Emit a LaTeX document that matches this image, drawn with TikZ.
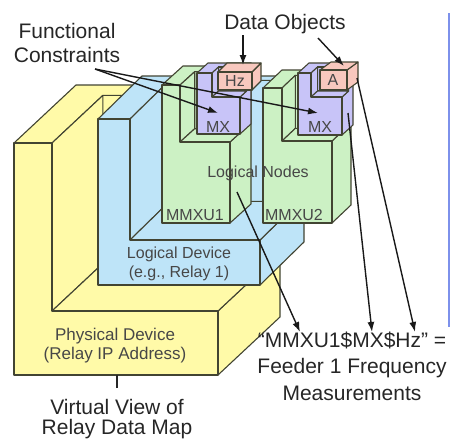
\documentclass[tikz,border=0pt]{standalone}
\usepackage{fontspec}
\setmainfont{Liberation Sans}
\usepackage{tikz}
\usetikzlibrary{calc, arrows.meta}

\definecolor{pdyellow}{RGB}{255,250,168}
\definecolor{ldblue}{RGB}{190,228,248}
\definecolor{lngreen}{RGB}{204,241,196}
\definecolor{fcpurple}{RGB}{200,196,248}
\definecolor{dopink}{RGB}{248,200,190}
\definecolor{edge}{RGB}{66,68,50}
\definecolor{rimblue}{RGB}{125,145,235}

% L-shaped block: fill, x0, xc, x1, y0, ys, yb, depth, wall fraction
\newcommand{\trayshape}[9]{%
    \coordinate (fa) at (#2,#5);
    \coordinate (fb) at (#3,#5);
    \coordinate (fc) at (#3,#6);
    \coordinate (fd) at (#4,#6);
    \coordinate (fe) at (#4,#7);
    \coordinate (ff) at (#2,#7);
    \coordinate (wb) at ($(fb)+#9*(#8)$);
    \coordinate (wc) at ($(fc)+#9*(#8)$);
    \coordinate (wd) at ($(fd)+#9*(#8)$);
    \coordinate (we) at ($(#4,#5)+#9*(#8)$);
    \coordinate (ba) at ($(fa)+(#8)$);
    \coordinate (bt) at ($(#4,#5)+(#8)$);
    \coordinate (be) at ($(fe)+(#8)$);
    \filldraw[boxline, fill=#1] (fd) -- (fe) -- (be) -- (bt) -- (we) -- (wd) -- cycle;
    \filldraw[boxline, fill=#1] (fa) -- (fb) -- (wb) -- (we) -- (bt) -- (ba) -- cycle;
    \filldraw[boxline, fill=#1] (wb) -- (we) -- (wd) -- (wc) -- cycle;
    \filldraw[boxline, fill=#1] (fb) -- (wb) -- (wc) -- (fc) -- cycle;
    \filldraw[boxline, fill=#1] (fc) -- (fd) -- (wd) -- (wc) -- cycle;
    \filldraw[boxline, fill=#1] (fa) -- (fb) -- (fc) -- (fd) -- (fe) -- (ff) -- cycle;
}

% plain box: fill, x0, y0, x1, y1, depth
\newcommand{\cubeshape}[6]{%
    \coordinate (ca) at (#2,#3);
    \coordinate (cb) at (#4,#3);
    \coordinate (cc) at (#4,#5);
    \filldraw[boxline, fill=#1] (cb) -- (cc) -- ($(cc)+(#6)$) -- ($(cb)+(#6)$) -- cycle;
    \filldraw[boxline, fill=#1] (ca) -- (cb) -- ($(cb)+(#6)$) -- ($(ca)+(#6)$) -- cycle;
    \filldraw[boxline, fill=#1] (ca) rectangle (cc);
}

\begin{document}
\begin{tikzpicture}[x=1pt, y=-1pt,
    boxline/.style={draw=edge, line width=1.1pt, line join=round},
    arr/.style={-{Latex[length=10pt, width=7pt]}, line width=1.4pt, black!90},
    biglabel/.style={text=black!85, align=center, inner sep=2pt},
    boxlabel/.style={text=black!72, align=center, inner sep=1pt, font=\fontsize{16}{19}\selectfont}]
    \useasboundingbox (0,0) rectangle (453,439);

    % Blocks
    \trayshape{pdyellow}{14}{52}{218}{143}{311}{375}{62,-58}{0.82}
    \trayshape{ldblue}{98}{130}{260}{119}{240}{285}{44,-43}{0.9}
    \trayshape{lngreen}{162}{180}{230}{85}{142}{223}{21,-19}{0.7}
    \trayshape{lngreen}{263}{282}{332}{88}{141}{223}{19,-18}{0.7}
    \trayshape{fcpurple}{197}{212}{240}{73}{97}{134}{11,-10}{0.6}
    \cubeshape{dopink}{218}{72}{252}{90}{9,-9}
    \trayshape{fcpurple}{298}{311}{342}{73}{97}{135}{11,-10}{0.6}
    \cubeshape{dopink}{320}{70}{347}{90}{11,-8}

    % Nodes
    \node[boxlabel] (hz) at (235,81) {Hz};
    \node[boxlabel] (a) at (333,80) {A};
    \node[boxlabel] (mx1) at (218,127) {MX};
    \node[boxlabel] (mx2) at (320,127) {MX};
    \node[boxlabel] (ln) at (258,173) {Logical Nodes};
    \node[boxlabel] (mmxu1) at (195,215) {MMXU1};
    \node[boxlabel] (mmxu2) at (294,215) {MMXU2};
    \node[boxlabel] (ld) at (179,264) {Logical Device\\(e.g., Relay 1)};
    \node[boxlabel, font=\fontsize{17}{19}\selectfont] (pd) at (115,346) {Physical Device\\(Relay IP Address)};

    \node[biglabel, font=\fontsize{21}{23.3}\selectfont] (fcl) at (67,43) {Functional\\Constraints};
    \node[biglabel, font=\fontsize{21}{24}\selectfont] (dol) at (285,24) {Data Objects};
    \node[biglabel, font=\fontsize{21}{26.5}\selectfont] (meas) at (352,366) {“MMXU1\$MX\$Hz” =\\Feeder 1 Frequency\\Measurements};
    \node[biglabel, font=\fontsize{21}{20}\selectfont] (vv) at (117,419) {Virtual View of\\Relay Data Map};

    \coordinate (fcfoot) at (95,69);
    \coordinate (mx1top) at (218,113);
    \coordinate (mx2top) at (318,113);
    \coordinate (dofoot1) at (243,35);
    \coordinate (dofoot2) at (318,38);
    \coordinate (hztop) at (243,65);
    \coordinate (atop) at (344,66);
    \coordinate (lnside) at (237,192);
    \coordinate (mxside) at (348,113);
    \coordinate (aside) at (357,78);
    \coordinate (m1) at (300,332);
    \coordinate (m2) at (372,332);
    \coordinate (m3) at (415,332);
    \coordinate (pdfoot) at (117,375);

    % Lines
    \draw[arr] (fcfoot) -- (mx1top);
    \draw[arr] (fcfoot) -- (mx2top);
    \draw[arr] (dofoot1) -- (hztop);
    \draw[arr] (dofoot2) -- (atop);
    \draw[arr] (lnside) -- (m1);
    \draw[arr] (mxside) -- (m2);
    \draw[arr] (aside) -- (m3);
    \draw[line width=1.2pt, black!85, shorten <=9pt] (vv.north) -- (pdfoot);
    \draw[line width=2pt, rimblue] (449,13) -- (449,327);
\end{tikzpicture}
\end{document}
